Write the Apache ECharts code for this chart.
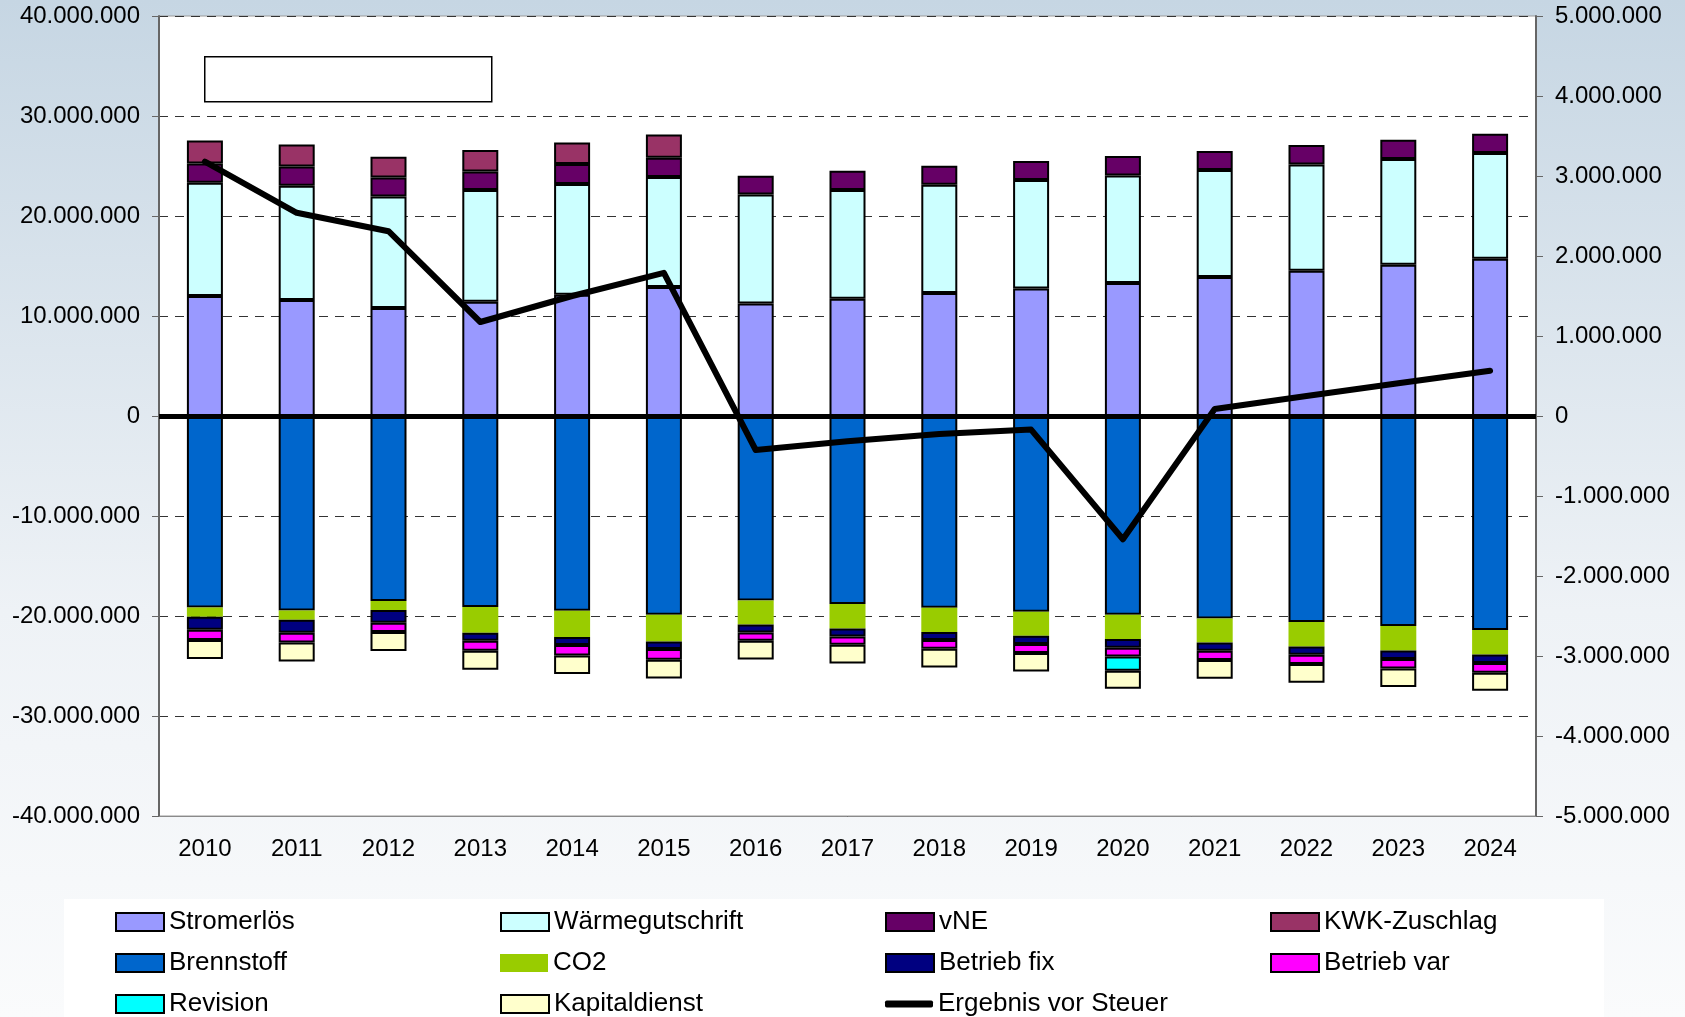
<!DOCTYPE html>
<html>
<head>
<meta charset="utf-8">
<script src="https://cdn.jsdelivr.net/npm/echarts@6/dist/echarts.min.js"></script>
<style>
html,body{margin:0;padding:0;}
#chart{width:1685px;height:1017px;}
</style>
</head>
<body>
<div id="chart"></div>
<script>
const years = ['2010','2011','2012','2013','2014','2015','2016','2017','2018','2019','2020','2021','2022','2023','2024'];

const stromerloes = [12000000, 11600000, 10800000, 11430000, 12130000, 12900000, 11260000, 11730000, 12300000, 12760000, 13300000, 13900000, 14530000, 15130000, 15730000];
const waermegutschrift = [11330000, 11430000, 11160000, 11170000, 11070000, 11000000, 10900000, 10870000, 10830000, 10840000, 10760000, 10700000, 10630000, 10570000, 10570000];
const vne = [1930000, 1930000, 1900000, 1860000, 2000000, 1930000, 1870000, 1930000, 1900000, 1900000, 1940000, 1900000, 1940000, 1930000, 1930000];
const kwkZuschlag = [2300000, 2200000, 2070000, 2140000, 2160000, 2330000, null, null, null, null, null, null, null, null, null];
const brennstoff = [-19140000, -19440000, -18500000, -19100000, -19470000, -19870000, -18440000, -18800000, -19170000, -19570000, -19870000, -20240000, -20600000, -21000000, -21400000];
const co2 = [-930000, -930000, -900000, -2570000, -2630000, -2670000, -2400000, -2440000, -2430000, -2400000, -2430000, -2400000, -2440000, -2440000, -2440000];
const betriebFix = [-1300000, -1300000, -1270000, -800000, -800000, -760000, -800000, -800000, -800000, -830000, -870000, -830000, -830000, -860000, -860000];
const betriebVar = [-1030000, -970000, -930000, -1000000, -1040000, -1070000, -830000, -830000, -870000, -900000, -870000, -930000, -930000, -940000, -970000];
const revision = [null, null, null, null, null, null, null, null, null, null, -1430000, null, null, null, null];
const kapitaldienst = [-1900000, -1900000, -1900000, -1900000, -1860000, -1870000, -1870000, -1870000, -1870000, -1840000, -1800000, -1870000, -1870000, -1860000, -1800000];
const ergebnis = [3180000, 2540000, 2310000, 1175000, 1500000, 1790000, -425000, -317000, -225000, -170000, -1540000, 87000, 250000, 410000, 566000];

// legend grid (4 columns x 3 rows, filled row by row)
const legendNames = [
  'Stromerlös', 'Wärmegutschrift', 'vNE', 'KWK-Zuschlag',
  'Brennstoff', 'CO2', 'Betrieb fix', 'Betrieb var',
  'Revision', 'Kapitaldienst', 'Ergebnis vor Steuer'
];

function fmt(v) {
  const s = Math.abs(Math.round(v)).toString().replace(/\B(?=(\d{3})+(?!\d))/g, '.');
  return (v < 0 ? '-' : '') + s;
}

const FONT = 'Arial, "Liberation Sans", sans-serif';

function bar(name, data, color, border) {
  return {
    name: name, type: 'bar', stack: 'total', data: data, barWidth: 36,
    itemStyle: { color: color, borderColor: border === false ? color : '#000', borderWidth: border === false ? 0 : 2 }
  };
}

const colX = [115, 500, 885, 1270];
const rowY = [921, 962, 1003];
const legends = legendNames.map(function (name, i) {
  const c = i % 4, r = Math.floor(i / 4);
  const isLine = name === 'Ergebnis vor Steuer';
  return {
    left: colX[c], top: rowY[r] - 12, padding: 0,
    orient: 'horizontal', itemWidth: 48, itemHeight: isLine ? 7 : 18,
    icon: isLine ? 'roundRect' : 'rect',
    selectedMode: false,
    data: [name],
    textStyle: { fontFamily: FONT, fontSize: 26, color: '#000' }
  };
});

const chart = echarts.init(document.getElementById('chart'), null, { renderer: 'canvas' });

chart.setOption({
  animation: false,
  backgroundColor: {
    type: 'linear', x: 0, y: 0, x2: 0, y2: 1,
    colorStops: [{ offset: 0, color: '#c6d6e3' }, { offset: 0.6, color: '#eef2f6' }, { offset: 1, color: '#fafbfc' }]
  },
  graphic: [
    { type: 'rect', left: 64, top: 899, shape: { width: 1540, height: 118 }, style: { fill: '#ffffff' }, z: -1 },
    { type: 'rect', left: 204, top: 56, shape: { width: 287, height: 45 }, style: { fill: '#ffffff', stroke: '#000', lineWidth: 1.5 }, z: 10 }
  ],
  grid: {
    left: 159, right: 149, top: 16, bottom: 201,
    show: true, backgroundColor: '#ffffff', borderColor: '#9a9a9a', borderWidth: 1
  },
  legend: legends,
  xAxis: {
    type: 'category', data: years, boundaryGap: true,
    axisLine: { onZero: false, lineStyle: { color: '#8a8a8a', width: 1 } },
    axisTick: { show: false },
    axisLabel: { fontFamily: FONT, fontSize: 24, color: '#000', margin: 21 }
  },
  yAxis: [
    {
      type: 'value', min: -40000000, max: 40000000, interval: 10000000,
      axisLine: { show: true, lineStyle: { color: '#666', width: 2 } },
      axisTick: { show: true, length: 7, lineStyle: { color: '#666', width: 1 } },
      axisLabel: { fontFamily: FONT, fontSize: 24, color: '#000', margin: 19, formatter: fmt },
      splitLine: { show: true, lineStyle: { color: '#333', width: 1, type: [9, 7] } }
    },
    {
      type: 'value', min: -5000000, max: 5000000, interval: 1000000, position: 'right',
      axisLine: { show: true, lineStyle: { color: '#666', width: 2 } },
      axisTick: { show: true, length: 7, lineStyle: { color: '#666', width: 1 } },
      axisLabel: { fontFamily: FONT, fontSize: 24, color: '#000', margin: 19, formatter: fmt },
      splitLine: { show: false }
    }
  ],
  series: [
    bar('Stromerlös', stromerloes, '#9999ff'),
    bar('Wärmegutschrift', waermegutschrift, '#ccffff'),
    bar('vNE', vne, '#660066'),
    bar('KWK-Zuschlag', kwkZuschlag, '#993366'),
    bar('Brennstoff', brennstoff, '#0066cc'),
    bar('CO2', co2, '#99cc00', false),
    bar('Betrieb fix', betriebFix, '#000080'),
    bar('Betrieb var', betriebVar, '#ff00ff'),
    bar('Revision', revision, '#00ffff'),
    bar('Kapitaldienst', kapitaldienst, '#ffffcc'),
    {
      name: 'Ergebnis vor Steuer', type: 'line', yAxisIndex: 1, data: ergebnis,
      symbol: 'none', z: 5,
      lineStyle: { color: '#000', width: 6, cap: 'round', join: 'round' },
      itemStyle: { color: '#000' },
      markLine: {
        silent: true, symbol: 'none', label: { show: false },
        lineStyle: { color: '#000', width: 5, type: 'solid' },
        data: [{ yAxis: 0 }]
      }
    }
  ]
});
</script>
</body>
</html>
